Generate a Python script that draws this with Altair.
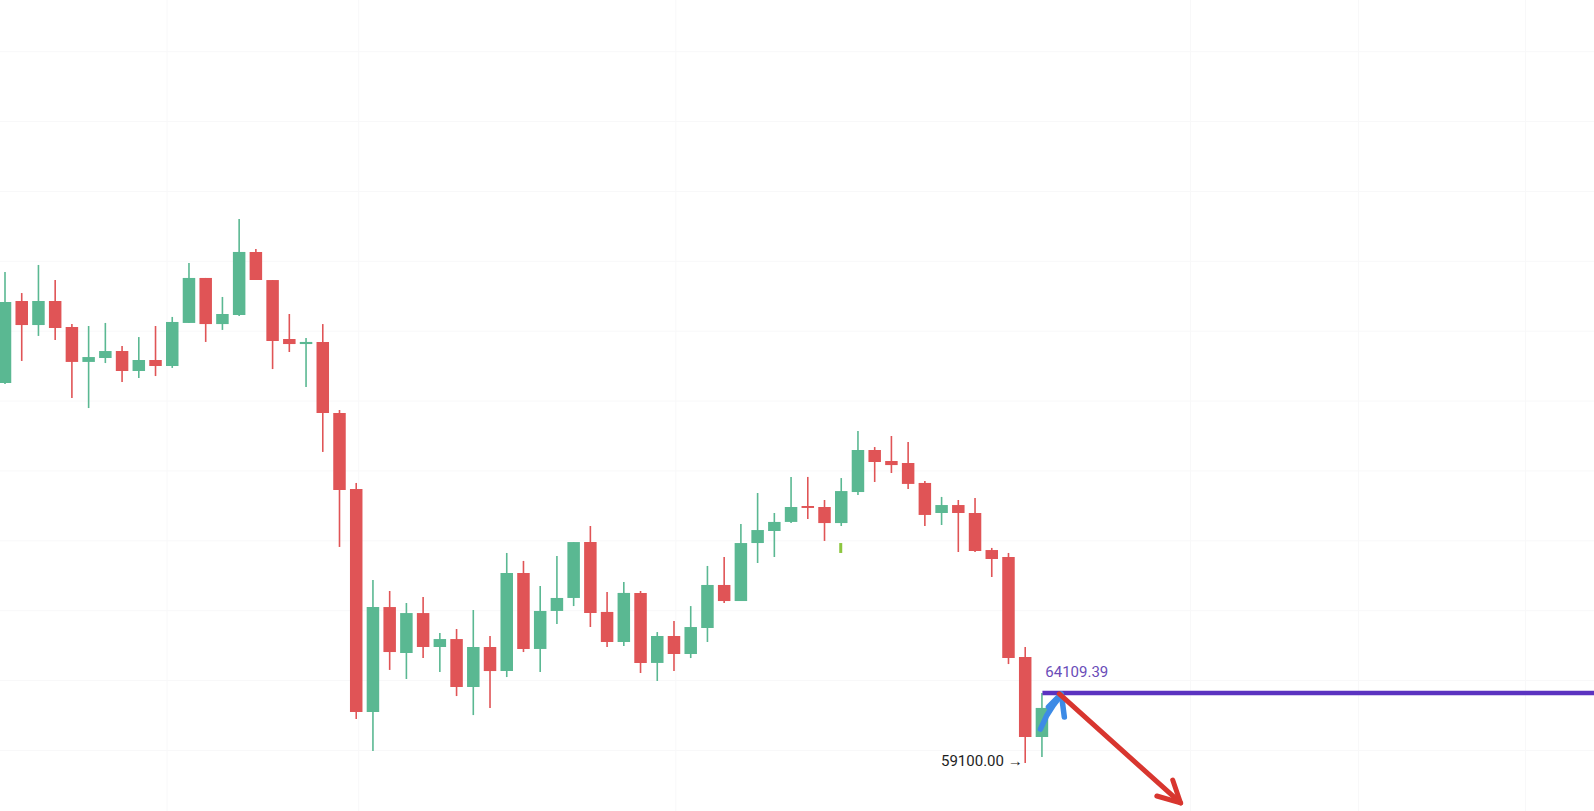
import altair as alt
import pandas as pd

# ---- candle data (index, open, high, low, close) ----
idx = list(range(63))
opens = [86290, 92160, 90440, 92160, 90300, 87800, 88080, 88580, 87150, 87940,
         87510, 90590, 93810, 90510, 91160, 95670, 93660, 89440, 89080, 89230,
         84150, 78710, 62750, 70260, 66970, 69830, 67400, 67970, 64540, 67400,
         65680, 72700, 67260, 69980, 70910, 74910, 69910, 67760, 71270, 66260,
         68190, 66900, 68760, 71840, 70690, 74840, 75700, 76350, 77490, 77420,
         76270, 78490, 81500, 80710, 80570, 79140, 76990, 77560, 76990, 74340,
         73840, 66690, 60960]
highs = [94240, 92730, 94740, 93660, 90510, 90370, 90590, 88940, 89580, 90370,
         91020, 94880, 93810, 92450, 98030, 95880, 93660, 91230, 89510, 90510,
         84360, 79140, 72200, 71410, 70550, 70980, 68400, 68690, 70050, 68190,
         74130, 73560, 71770, 73910, 74910, 76060, 71340, 72050, 71410, 68470,
         69260, 70330, 73200, 73840, 76200, 78420, 76990, 79570, 79570, 77920,
         79490, 82860, 81710, 82500, 82070, 79280, 78140, 77920, 78060, 74490,
         74130, 67400, 64110]
lows = [86220, 87870, 89660, 89370, 85220, 84500, 87720, 86360, 86650, 86790,
        87370, 90590, 89230, 90090, 91090, 93660, 87290, 88510, 86010, 81360,
        74560, 62250, 59960, 65760, 65110, 66610, 65610, 63890, 62530, 63040,
        65250, 67040, 65610, 69050, 70330, 68830, 67400, 67470, 65540, 64970,
        65680, 66610, 67760, 70550, 70690, 73410, 73840, 76270, 76560, 74990,
        76060, 78280, 79210, 79850, 78710, 76060, 76130, 74200, 74200, 72410,
        66180, 59100, 59530]
closes = [92090, 90440, 92160, 90230, 87800, 88150, 88580, 87150, 87940, 87510,
          90660, 93810, 90510, 91230, 95670, 93660, 89300, 89080, 89230, 84150,
          78640, 62750, 70260, 67040, 69830, 67400, 67970, 64540, 67400, 65680,
          72700, 67260, 69980, 70910, 74910, 69830, 67760, 71270, 66260, 68190,
          66900, 68830, 71840, 70690, 74840, 75770, 76350, 77420, 77350, 76270,
          78560, 81500, 80640, 80420, 79070, 76850, 77560, 76990, 74270, 73700,
          66610, 60960, 63040]

# ---- gridlines ----
hgrid_prices = [60000, 65000, 70000, 75000, 80000, 85000, 90000, 95000, 100000, 105000, 110000]
vgrid_idx = [9.69, 21.15, 40.11, 70.89, 80.93, 90.91]

# ---- annotations ----
level_price = 64109.39
level_start = 62.03
level_end = 96
level_label = "64109.39"
low_label = "59100.00 →"
low_label_pos = [60.85, 59240]
level_label_pos = [62.2, 65610]
marker_idx = [49.97]
marker_lo = [74130]
marker_hi = [74840]

red_shaft_x = [63.04, 70.29]
red_shaft_y = [64040, 56240]
red_head_x = [69.82, 70.29, 68.87]
red_head_y = [57880, 56240, 56740]
blue_shaft_x = [61.91, 62.27, 62.69, 63.10]
blue_shaft_y = [61530, 62460, 63250, 63890]
blue_head_x = [62.39, 63.16, 63.34]
blue_head_y = [63110, 64040, 62390]

GREEN = "#5ab892"
RED = "#e05456"
PURPLE = "#5b33c0"
X_MAX = 94.71
Y_DOMAIN = [55665, 113700]

df = pd.DataFrame({"i": idx, "open": opens, "high": highs, "low": lows, "close": closes})

xs = alt.Scale(domain=[0, X_MAX], nice=False, zero=False)
ys = alt.Scale(domain=Y_DOMAIN, nice=False, zero=False)
color = alt.condition("datum.close >= datum.open", alt.value(GREEN), alt.value(RED))

hgrid = alt.Chart(pd.DataFrame({"p": hgrid_prices})).mark_rule(
    color="#f8f8f9", strokeWidth=1).encode(y=alt.Y("p:Q", scale=ys, axis=None))
vgrid = alt.Chart(pd.DataFrame({"v": vgrid_idx})).mark_rule(
    color="#f8f8f9", strokeWidth=1).encode(x=alt.X("v:Q", scale=xs, axis=None))

base = alt.Chart(df).encode(x=alt.X("i:Q", scale=xs, axis=None))
wicks = base.mark_rule(strokeWidth=1.6).encode(
    y=alt.Y("low:Q", scale=ys, axis=None), y2="high:Q", color=color)
bodies = base.mark_bar(size=12.5).encode(
    y=alt.Y("open:Q", scale=ys, axis=None), y2="close:Q", color=color)

marker = alt.Chart(pd.DataFrame({"x": marker_idx, "lo": marker_lo, "hi": marker_hi})).mark_rule(
    color="#8cc63f", strokeWidth=3).encode(
    x=alt.X("x:Q", scale=xs, axis=None), y=alt.Y("lo:Q", scale=ys, axis=None), y2="hi:Q")

level = alt.Chart(pd.DataFrame({"x": [level_start], "x2": [level_end], "p": [level_price]})).mark_rule(
    color=PURPLE, strokeWidth=4.5).encode(
    x=alt.X("x:Q", scale=xs, axis=None), x2="x2:Q", y=alt.Y("p:Q", scale=ys, axis=None))

lvl_text = alt.Chart(pd.DataFrame({"x": [level_label_pos[0]], "y": [level_label_pos[1]], "t": [level_label]})).mark_text(
    align="left", baseline="middle", fontSize=15, font="Roboto", color="#6a4cb8").encode(
    x=alt.X("x:Q", scale=xs, axis=None), y=alt.Y("y:Q", scale=ys, axis=None), text="t:N")

low_text = alt.Chart(pd.DataFrame({"x": [low_label_pos[0]], "y": [low_label_pos[1]], "t": [low_label]})).mark_text(
    align="right", baseline="middle", fontSize=15, font="Roboto", color="#1e1e1e").encode(
    x=alt.X("x:Q", scale=xs, axis=None), y=alt.Y("y:Q", scale=ys, axis=None), text="t:N")


def arrow(xv, yv, col, width):
    d = pd.DataFrame({"x": xv, "y": yv, "k": list(range(len(xv)))})
    return alt.Chart(d).mark_line(color=col, strokeWidth=width, strokeCap="round", strokeJoin="round").encode(
        x=alt.X("x:Q", scale=xs, axis=None), y=alt.Y("y:Q", scale=ys, axis=None), order="k:Q")


blue1 = arrow(blue_shaft_x, blue_shaft_y, "#3d8be6", 5.5)
blue2 = arrow(blue_head_x, blue_head_y, "#3d8be6", 5.5)
red1 = arrow(red_shaft_x, red_shaft_y, "#d8362f", 5)
red2 = arrow(red_head_x, red_head_y, "#d8362f", 5)

chart = alt.layer(
    hgrid, vgrid, wicks, bodies, marker, level, lvl_text, low_text, blue1, blue2, red1, red2
).properties(
    width=1594, height=811, padding=0, autosize="none", background="white"
).configure_view(stroke=None)

chart.save("out.html", embed_options={"renderer": "svg", "actions": False})
